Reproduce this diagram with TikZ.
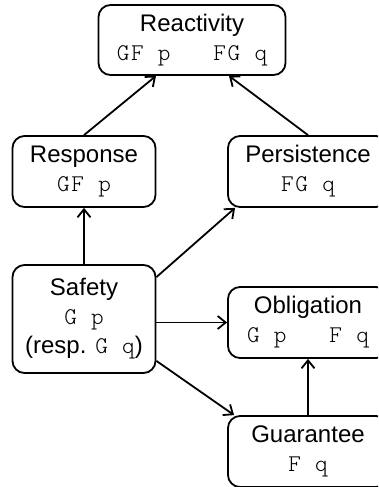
\documentclass[tikz,border=0pt]{standalone}
\usepackage{fontspec}
\setmainfont{Liberation Sans}
\newfontfamily\cmono{lmmonolt10-regular.otf}[LetterSpace=7]
\usetikzlibrary{arrows.meta}
\begin{document}
\begin{tikzpicture}[x=1pt,y=-1pt,
  box/.style={draw, line width=1.8pt, rounded corners=12pt, inner sep=0pt,
    align=center, font=\fontsize{24}{29}\selectfont},
  narrow/.style={box, minimum width=143pt, minimum height=71pt},
  wide/.style={box, minimum width=160pt, minimum height=71pt},
  link/.style={line width=1.8pt, -{Straight Barb[length=8pt,width=13pt]}}]
\useasboundingbox (0,0) rectangle (378,487);
\begin{scope}
\clip (0,0) rectangle (378,487);
% temporal-logic property classes
\node[box, minimum width=187pt, minimum height=70pt] (react) at (192,40)
  {Reactivity\\{\cmono GF~p~~~FG~q}};
\node[narrow] (resp) at (84,171.5) {Response\\{\cmono GF~p}};
\node[wide] (pers) at (308,171.5) {Persistence\\{\cmono FG~q}};
\node[box, minimum width=143pt, minimum height=108pt] (safe) at (84,319)
  {Safety\\{\cmono G~p}\\(resp. {\cmono G~q})};
\node[wide] (obl) at (308,322.5) {Obligation\\{\cmono G~p~~~F~q}};
\node[wide] (guar) at (308,451.5) {Guarantee\\{\cmono F~q}};
% inclusions between the classes
\draw[link] (resp.north) -- ([xshift=-36pt]react.south);
\draw[link] (pers.north) -- ([xshift=37pt]react.south);
\draw[link] (safe.north) -- (resp.south);
\draw[link] ([yshift=-13pt]safe.north east) -- ([xshift=8pt]pers.south west);
\draw[link] (safe.east |- obl.west) -- (obl.west);
\draw[link] ([yshift=13pt]safe.south east) -- ([xshift=7pt]guar.north west);
\draw[link] (guar.north) -- (obl.south);
\end{scope}
\end{tikzpicture}
\end{document}
